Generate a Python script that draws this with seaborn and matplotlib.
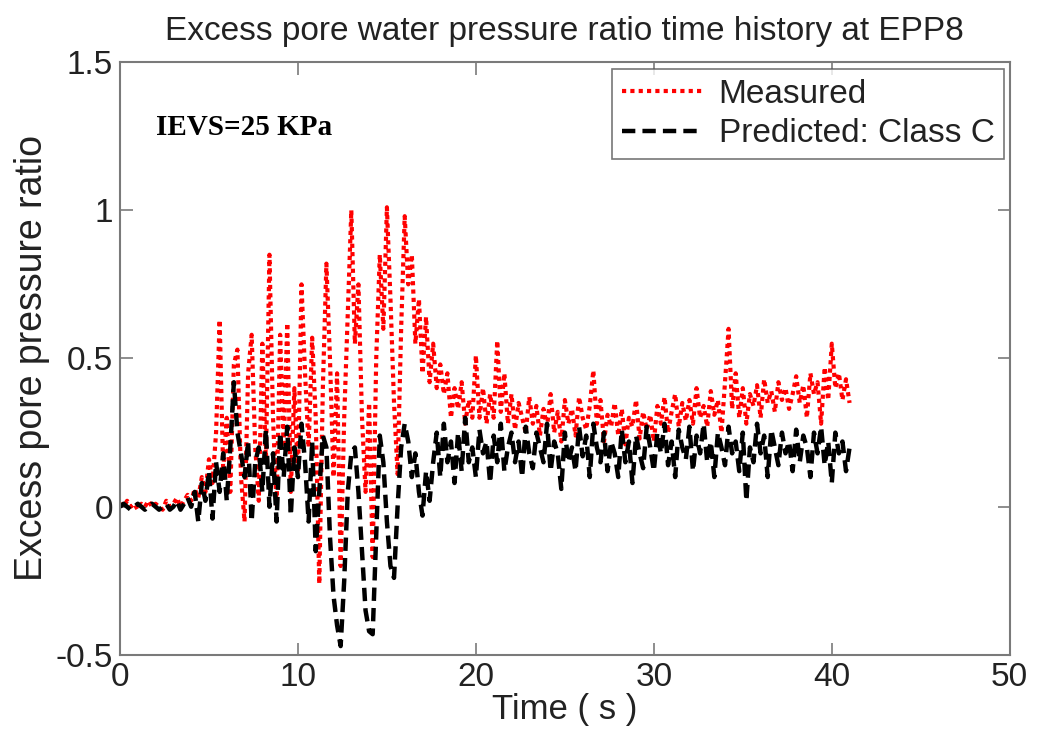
import matplotlib
matplotlib.use("Agg")
import matplotlib.pyplot as plt
import numpy as np
import pandas as pd
import seaborn as sns

# sampling grid (s)
time_s = np.round(np.arange(0, 41.01, 0.2), 1)

measured = [
    0.01, 0.00, 0.02, 0.00, 0.01, -0.01, 0.01, 0.00, 0.02, 0.00,
    0.01, 0.00, -0.01, 0.02, 0.00, 0.01, 0.03, 0.00, 0.02, 0.04,
    0.02, 0.06, 0.03, 0.10, 0.05, 0.16, 0.08, 0.25, 0.63, 0.12,
    0.30, 0.05, 0.48, 0.53, 0.10, -0.05, 0.45, 0.58, 0.20, 0.02,
    0.55, 0.15, 0.85, 0.30, 0.00, 0.58, 0.20, 0.62, 0.05, 0.40,
    0.10, 0.75, 0.45, 0.20, 0.57, 0.30, -0.26, 0.40, 0.82, 0.50,
    0.10, 0.45, -0.20, 0.30, 0.65, 1.00, 0.55, 0.75, 0.30, 0.05,
    0.35, -0.17, 0.50, 0.85, 0.60, 1.01, 0.70, 0.35, 0.11, 0.60,
    0.98, 0.75, 0.85, 0.55, 0.70, 0.45, 0.64, 0.42, 0.55, 0.40,
    0.48, 0.38, 0.45, 0.30, 0.40, 0.33, 0.42, 0.28, 0.36, 0.30,
    0.51, 0.30, 0.40, 0.28, 0.38, 0.30, 0.56, 0.32, 0.45, 0.28,
    0.38, 0.26, 0.35, 0.30, 0.25, 0.37, 0.28, 0.34, 0.24, 0.33,
    0.27, 0.38, 0.25, 0.32, 0.22, 0.36, 0.28, 0.33, 0.24, 0.37,
    0.30, 0.26, 0.34, 0.46, 0.28, 0.36, 0.22, 0.31, 0.27, 0.35,
    0.24, 0.33, 0.21, 0.30, 0.27, 0.36, 0.23, 0.32, 0.26, 0.31,
    0.22, 0.34, 0.28, 0.37, 0.25, 0.32, 0.38, 0.27, 0.35, 0.29,
    0.36, 0.28, 0.40, 0.30, 0.34, 0.27, 0.39, 0.31, 0.36, 0.25,
    0.42, 0.60, 0.33, 0.45, 0.30, 0.40, 0.28, 0.38, 0.34, 0.41,
    0.30, 0.43, 0.35, 0.39, 0.32, 0.42, 0.36, 0.40, 0.33, 0.38,
    0.44, 0.35, 0.41, 0.30, 0.45, 0.38, 0.42, 0.28, 0.47, 0.36,
    0.55, 0.40, 0.45, 0.36, 0.43, 0.35,
]

predicted = [
    0.00, 0.01, 0.00, -0.01, 0.00, 0.01, 0.00, -0.01, 0.00, 0.01,
    0.00, -0.01, 0.00, 0.01, -0.01, 0.00, 0.02, -0.01, 0.01, 0.03,
    0.00, 0.05, -0.05, 0.08, 0.02, 0.12, -0.04, 0.15, 0.05, 0.18,
    0.02, 0.20, 0.42, 0.25, 0.18, 0.10, 0.22, -0.05, 0.15, 0.20,
    0.05, 0.26, 0.00, 0.18, -0.05, 0.25, 0.10, 0.27, -0.03, 0.20,
    0.10, 0.28, 0.15, -0.05, 0.22, -0.15, 0.05, 0.24, 0.20, -0.10,
    -0.30, -0.40, -0.47, -0.25, 0.05, 0.18, 0.20, 0.05, -0.15, -0.35,
    -0.42, -0.43, -0.10, 0.24, 0.15, -0.05, -0.20, -0.24, 0.00, 0.20,
    0.28, 0.22, 0.10, 0.18, 0.05, -0.03, 0.12, 0.02, 0.15, 0.25,
    0.10, 0.28, 0.15, 0.22, 0.08, 0.25, 0.12, 0.30, 0.15, 0.20,
    0.10, 0.26, 0.18, 0.22, 0.08, 0.24, 0.15, 0.28, 0.12, 0.20,
    0.25, 0.15, 0.22, 0.10, 0.27, 0.18, 0.13, 0.25, 0.20, 0.15,
    0.28, 0.12, 0.22, 0.18, 0.06, 0.25, 0.15, 0.20, 0.12, 0.27,
    0.17, 0.24, 0.10, 0.28, 0.20, 0.15, 0.25, 0.12, 0.22, 0.18,
    0.10, 0.26, 0.15, 0.22, 0.08, 0.24, 0.18, 0.13, 0.27, 0.20,
    0.12, 0.25, 0.18, 0.28, 0.14, 0.22, 0.10, 0.26, 0.20, 0.16,
    0.27, 0.12, 0.24, 0.18, 0.28, 0.15, 0.22, 0.10, 0.25, 0.20,
    0.14, 0.27, 0.18, 0.22, 0.12, 0.25, 0.02, 0.20, 0.15, 0.28,
    0.18, 0.24, 0.10, 0.26, 0.20, 0.14, 0.25, 0.18, 0.22, 0.12,
    0.26, 0.15, 0.24, 0.20, 0.10, 0.25, 0.18, 0.27, 0.14, 0.22,
    0.08, 0.25, 0.18, 0.22, 0.12, 0.20,
]

x_ticks = [0, 10, 20, 30, 40, 50]
y_ticks = [-0.5, 0, 0.5, 1, 1.5]
y_tick_labels = ["-0.5", "0", "0.5", "1", "1.5"]

df = pd.DataFrame({"time": time_s, "Measured": measured, "Predicted": predicted})

sns.set_style("white")
plt.rcParams["font.family"] = ["Liberation Sans", "DejaVu Sans"]

fig = plt.figure(figsize=(10.37, 7.38), dpi=100)
ax = fig.add_axes([0.1157, 0.1125, 0.858, 0.8035])

sns.lineplot(data=df, x="time", y="Measured", ax=ax, color="red",
             linestyle=(0, (1, 1)), linewidth=3, label="Measured")
sns.lineplot(data=df, x="time", y="Predicted", ax=ax, color="black",
             linestyle=(0, (3, 1.6)), linewidth=3.2, label="Predicted: Class C")

ax.set_xlim(0, 50)
ax.set_ylim(-0.5, 1.5)
ax.set_xticks(x_ticks)
ax.set_yticks(y_ticks)
ax.set_yticklabels(y_tick_labels)

for s in ax.spines.values():
    s.set_color("#7a7a7a")
    s.set_linewidth(1.5)
ax.tick_params(direction="in", length=9, width=1.2, color="#7a7a7a",
               labelsize=24, labelcolor="#222222", top=True, right=True,
               left=True, bottom=True, pad=5)

ax.set_title("Excess pore water pressure ratio time history at EPP8",
             fontsize=24, color="#222222", pad=16)
ax.set_xlabel("Time ( s )", fontsize=25, color="#222222", labelpad=0)
ax.set_ylabel("Excess pore pressure ratio", fontsize=27, color="#222222", labelpad=4)

ax.text(2.0, 1.28, "IEVS=25 KPa", fontsize=21, fontweight="bold",
        family="Liberation Serif", color="black", va="center")

leg = ax.legend(loc="upper right", fontsize=24, frameon=True, fancybox=False,
                handlelength=2.4, handletextpad=0.5, borderpad=0.3,
                labelspacing=0.25, borderaxespad=0.0,
                bbox_to_anchor=(0.994, 0.988))
leg.get_frame().set_edgecolor("#555555")
leg.get_frame().set_linewidth(1.2)
for t in leg.get_texts():
    t.set_color("#222222")

fig.savefig("out.png", dpi=100)
